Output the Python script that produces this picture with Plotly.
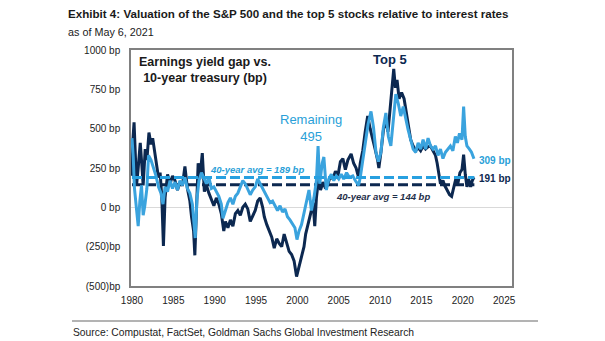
import plotly.graph_objects as go

# ---------------- data ----------------
top5_years = [1980.0, 1980.1, 1980.25, 1980.4, 1980.55, 1980.75, 1981.0, 1981.2, 1981.35, 1981.6, 1981.8,
              1982.05, 1982.3, 1982.5, 1982.8, 1983.0, 1983.2, 1983.4, 1983.6, 1983.8, 1984.0, 1984.3,
              1984.6, 1984.9, 1985.2, 1985.5, 1985.8, 1986.1, 1986.4, 1986.7, 1987.0, 1987.2, 1987.45,
              1987.6, 1987.8, 1988.0, 1988.2, 1988.5, 1988.75, 1989.0, 1989.3, 1989.6, 1989.9, 1990.2,
              1990.5, 1990.8, 1991.1, 1991.3, 1991.6, 1991.9, 1992.2, 1992.5, 1992.8, 1993.1, 1993.4,
              1993.7, 1994.0, 1994.3, 1994.6, 1994.9, 1995.2, 1995.5, 1995.8, 1996.0, 1996.3, 1996.6,
              1996.9, 1997.2, 1997.5, 1997.8, 1998.1, 1998.4, 1998.7, 1999.0, 1999.3, 1999.6, 1999.9,
              2000.2, 2000.5, 2000.8, 2001.0, 2001.3, 2001.6, 2001.9, 2002.1, 2002.3, 2002.6, 2002.8,
              2003.1, 2003.4, 2003.7, 2004.0, 2004.3, 2004.6, 2004.9, 2005.2, 2005.5, 2005.8, 2006.1,
              2006.5, 2006.8, 2007.1, 2007.4, 2007.6, 2007.9, 2008.2, 2008.5, 2008.8, 2009.1, 2009.4,
              2009.7, 2009.85, 2010.1, 2010.4, 2010.7, 2010.95, 2011.2, 2011.4, 2011.65, 2011.85, 2012.05,
              2012.3, 2012.6, 2012.9, 2013.2, 2013.45, 2013.7, 2014.0, 2014.3, 2014.6, 2014.9, 2015.2,
              2015.5, 2015.8, 2016.1, 2016.4, 2016.7, 2016.9, 2017.1, 2017.3, 2017.6, 2017.8, 2018.1,
              2018.4, 2018.65, 2018.9, 2019.15, 2019.4, 2019.65, 2019.9, 2020.1, 2020.3, 2020.5, 2020.7,
              2020.95, 2021.15, 2021.35]
top5_bp = [200, 420, 540, 300, 140, 250, 410, 260, 140, 370, 300,
           475, 400, 440, 320, 250, 190, 220, 70, -245, 60, 210,
           150, 200, 170, 110, 160, 140, 260, 120, 40, -60, -150,
           -305, 60, 280, 180, 345, 100, 140, 90, 50, 10, 60,
           20, -40, -150, -90, -130, -80, -120, -40, -20, -50, 0,
           20, -10, -90, -60, -20, 40, 60, 0, -60, -110, -150,
           -190, -260, -200, -230, -250, -170, -220, -280, -300, -340, -440,
           -380, -320, -250, -170, -110, -40, 30, -120, 60, 200, 110,
           160, 120, 150, 200, 180, 230, 200, 290, 310, 240, 300,
           340, 280, 250, 190, 280, 360, 480, 580, 500, 440, 370,
           300, 250, 350, 490, 560, 480, 620, 760, 880, 760, 810,
           690, 730, 690, 580, 510, 430, 390, 360, 380, 360, 390,
           370, 385, 390, 360, 330, 280, 200, 150, 170, 140, 110,
           80, 70, 130, 180, 150, 220, 240, 335, 210, 130, 180,
           130, 170, 191]

rem_years = [1980.0, 1980.15, 1980.3, 1980.5, 1980.75, 1980.95, 1981.15, 1981.35, 1981.55, 1981.8, 1982.0,
             1982.3, 1982.6, 1982.9, 1983.2, 1983.5, 1983.75, 1984.0, 1984.3, 1984.6, 1984.9, 1985.2,
             1985.5, 1985.8, 1986.1, 1986.4, 1986.7, 1987.0, 1987.3, 1987.5, 1987.65, 1987.85, 1988.1,
             1988.4, 1988.7, 1989.0, 1989.3, 1989.6, 1989.9, 1990.2, 1990.5, 1990.8, 1991.0, 1991.3,
             1991.6, 1991.9, 1992.2, 1992.5, 1992.8, 1993.1, 1993.4, 1993.7, 1994.0, 1994.3, 1994.6,
             1994.9, 1995.2, 1995.5, 1995.8, 1996.1, 1996.4, 1996.7, 1997.0, 1997.3, 1997.6, 1997.9,
             1998.2, 1998.5, 1998.8, 1999.1, 1999.4, 1999.7, 1999.95, 2000.2, 2000.5, 2000.8, 2001.1,
             2001.4, 2001.7, 2002.0, 2002.3, 2002.5, 2002.7, 2003.0, 2003.2, 2003.5, 2003.8, 2004.1,
             2004.4, 2004.7, 2005.0, 2005.3, 2005.6, 2005.95, 2006.3, 2006.7, 2007.0, 2007.4, 2007.6,
             2007.9, 2008.2, 2008.55, 2008.9, 2009.2, 2009.5, 2009.8, 2010.1, 2010.4, 2010.7, 2011.0,
             2011.3, 2011.6, 2011.9, 2012.2, 2012.5, 2012.8, 2013.1, 2013.4, 2013.7, 2014.0, 2014.3,
             2014.6, 2014.9, 2015.2, 2015.5, 2015.8, 2016.1, 2016.4, 2016.7, 2017.0, 2017.3, 2017.6,
             2017.9, 2018.2, 2018.5, 2018.8, 2019.1, 2019.35, 2019.6, 2019.9, 2020.1, 2020.3, 2020.5,
             2020.8, 2021.05, 2021.35]
rem_bp = [440, 320, 120, 20, -120, 40, 140, -50, 10, 120, 330,
          300, 250, 200, 130, 90, 20, 130, 100, 170, 120, 160,
          110, 170, 140, 190, 120, 90, 20, -80, -195, 50, 170,
          220, 180, 150, 190, 120, 130, 100, 70, 20, -70, -20,
          30, 60, 20, 70, 90, 130, 170, 150, 120, 80, 110,
          130, 180, 150, 120, 80, 50, 30, 40, 10, -20, 10,
          -30, -10, -60, -80, -110, -130, -205, -150, -110, -30, 40,
          110, -20, 60, 170, 390, 150, 280, 320, 110, 180, 210,
          170, 200, 180, 210, 180, 220, 190, 200, 170, 140, 190,
          300, 430, 530, 610, 510, 350, 290, 350, 510, 600, 450,
          390, 580, 720, 660, 580, 640, 560, 490, 430, 370, 350,
          410, 370, 430, 370, 440, 390, 370, 390, 330, 370, 310,
          350, 370, 390, 360, 450, 410, 470, 430, 640, 450, 390,
          370, 350, 309]

avg_span = [1980.0, 2021.4]
rem_avg = 189
top5_avg = 144

y_tickvals = [1000, 750, 500, 250, 0, -250, -500]
y_ticktext = ["1000 bp", "750 bp", "500 bp", "250 bp", "0 bp", "(250)bp", "(500)bp"]
x_tickvals = [1980, 1985, 1990, 1995, 2000, 2005, 2010, 2015, 2020, 2025]

# ---------------- styling ----------------
NAVY = "#0c2850"
LIGHT = "#3aa3de"
LIGHT_TXT = "#2a9fd8"
FONT = "Liberation Sans, Arial, sans-serif"

# plot area in pixels
L, R, T, B = 131, 512, 50, 286
W, H = 605, 341


def px(x):
    return (x - L) / (R - L)


def py(y):
    return (B - y) / (B - T)


fig = go.Figure()

fig.add_trace(go.Scatter(x=avg_span, y=[top5_avg, top5_avg], mode="lines",
                         line=dict(color=NAVY, width=3, dash="10px,4px"), hoverinfo="skip"))
fig.add_trace(go.Scatter(x=top5_years, y=top5_bp, mode="lines",
                         line=dict(color=NAVY, width=3), name="Top 5"))
fig.add_trace(go.Scatter(x=rem_years, y=rem_bp, mode="lines",
                         line=dict(color=LIGHT, width=3), name="Remaining 495"))
fig.add_trace(go.Scatter(x=avg_span, y=[rem_avg, rem_avg], mode="lines",
                         line=dict(color="#27a0e0", width=3, dash="10px,4px"), hoverinfo="skip"))

annotations = [
    dict(text="<b>Exhibit 4: Valuation of the S&P 500 and the top 5 stocks relative to interest rates</b>",
         xref="paper", yref="paper", x=px(66), y=py(14), xanchor="left", yanchor="middle",
         showarrow=False, font=dict(size=11.6, color="#1a1a1a", family=FONT)),
    dict(text="as of May 6, 2021",
         xref="paper", yref="paper", x=px(66), y=py(32), xanchor="left", yanchor="middle",
         showarrow=False, font=dict(size=10.8, color="#1a1a1a", family=FONT)),
    dict(text="<b>Earnings yield gap vs.<br>10-year treasury (bp)</b>",
         xref="paper", yref="paper", x=px(205), y=py(69.5), xanchor="center", yanchor="middle",
         showarrow=False, font=dict(size=12.5, color="#1a1a1a", family=FONT), align="center"),
    dict(text="<b>Top 5</b>",
         xref="paper", yref="paper", x=px(390), y=py(59), xanchor="center", yanchor="middle",
         showarrow=False, font=dict(size=13, color=NAVY, family=FONT)),
    dict(text="Remaining<br>495",
         xref="paper", yref="paper", x=px(311), y=py(127.5), xanchor="center", yanchor="middle",
         showarrow=False, font=dict(size=13, color=LIGHT_TXT, family=FONT), align="center"),
    dict(text="<b><i>40-year avg = 189 bp</i></b>",
         xref="paper", yref="paper", x=px(257), y=py(169), xanchor="center", yanchor="middle",
         showarrow=False, font=dict(size=9.5, color=LIGHT_TXT, family=FONT)),
    dict(text="<b><i>40-year avg = 144 bp</i></b>",
         xref="paper", yref="paper", x=px(383), y=py(196), xanchor="center", yanchor="middle",
         showarrow=False, font=dict(size=9.5, color="#1f2f4a", family=FONT)),
    dict(text="<b>309 bp</b>",
         xref="paper", yref="paper", x=px(477), y=py(160), xanchor="left", yanchor="middle",
         showarrow=False, font=dict(size=10, color=LIGHT_TXT, family=FONT)),
    dict(text="<b>191 bp</b>",
         xref="paper", yref="paper", x=px(477), y=py(178), xanchor="left", yanchor="middle",
         showarrow=False, font=dict(size=10, color=NAVY, family=FONT)),
    dict(text="Source: Compustat, FactSet, Goldman Sachs Global Investment Research",
         xref="paper", yref="paper", x=px(71), y=py(332), xanchor="left", yanchor="middle",
         showarrow=False, font=dict(size=10.3, color="#222222", family=FONT)),
]

shapes = [
    dict(type="line", xref="paper", yref="paper", x0=px(72), x1=px(538), y0=py(321), y1=py(321),
         line=dict(color="#b3b3b3", width=2)),
]

fig.update_layout(
    width=W, height=H,
    margin=dict(l=L, r=W - R, t=T, b=H - B, pad=0),
    paper_bgcolor="white", plot_bgcolor="white",
    showlegend=False,
    font=dict(family=FONT, size=10, color="#222222"),
    annotations=annotations, shapes=shapes,
    xaxis=dict(range=[1979.88, 2025.95], tickvals=x_tickvals, showgrid=False, zeroline=False,
               showline=True, mirror=True, linecolor="#808080", linewidth=1.5,
               ticks="outside", ticklen=4, tickcolor="rgba(0,0,0,0)",
               tickfont=dict(size=10, color="#222222")),
    yaxis=dict(range=[-500, 1000], tickvals=y_tickvals, ticktext=y_ticktext, showgrid=False,
               zeroline=True, zerolinecolor="#d9d9d9", zerolinewidth=1,
               showline=True, mirror=True, linecolor="#808080", linewidth=1.5,
               ticks="outside", ticklen=7, tickcolor="rgba(0,0,0,0)",
               tickfont=dict(size=10, color="#222222")),
)

fig.write_html("out.html")
